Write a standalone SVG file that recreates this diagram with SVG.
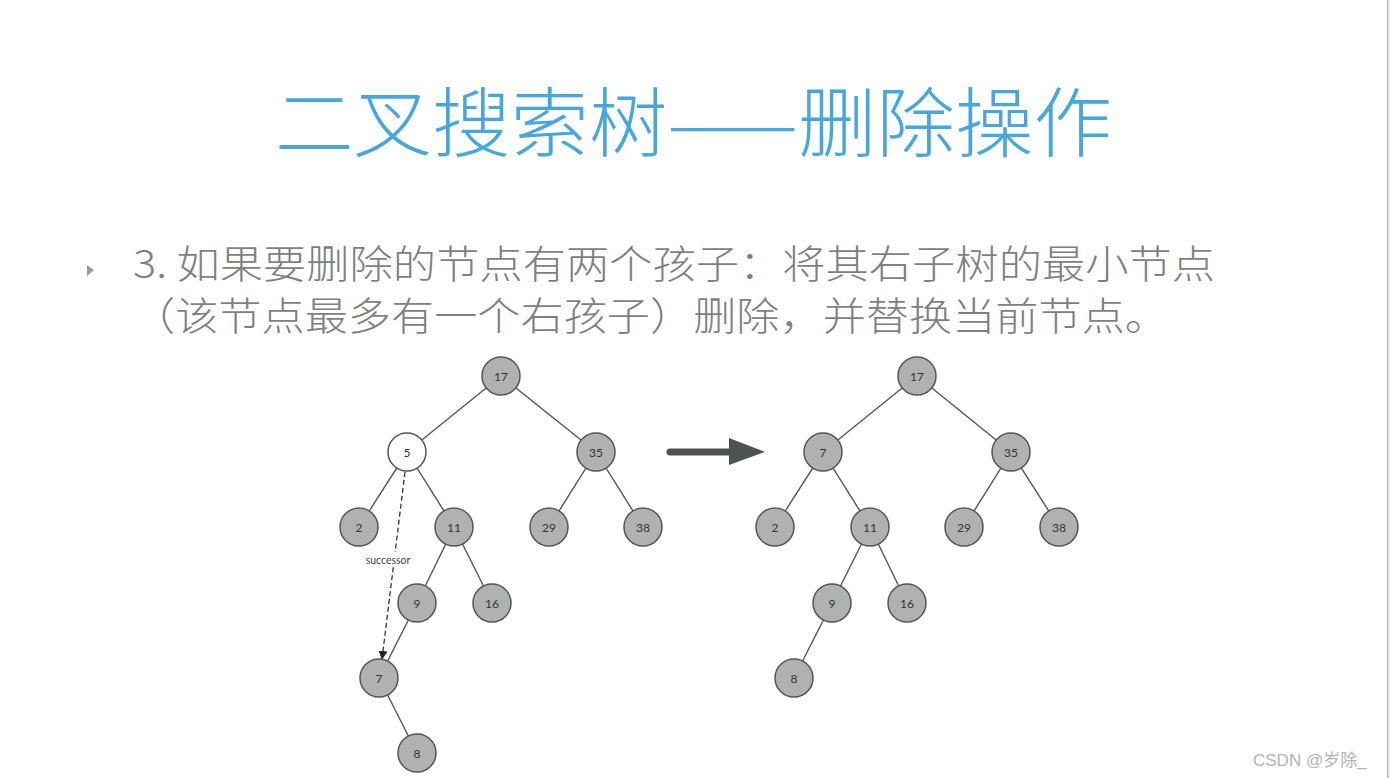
<svg xmlns="http://www.w3.org/2000/svg" width="1390" height="778" viewBox="0 0 1390 778">
<defs>
<style>
.title{font-family:"Noto Sans CJK SC","Noto Sans",sans-serif;font-weight:300;font-size:76px;fill:#47A6DD}
.body{font-family:"Noto Sans CJK SC","Noto Sans",sans-serif;font-weight:300;font-size:39px;fill:#7f7f7f}
.edge{stroke:#555;stroke-width:1.4;fill:none}
.node circle{fill:#b0b2b2;stroke:#555;stroke-width:1.5}
.node.white circle{fill:#fff}
.node text{font-family:Lato,"Liberation Sans",sans-serif;font-size:12px;fill:#333;text-anchor:middle;dominant-baseline:central}
.lbl{font-family:Lato,"Liberation Sans",sans-serif;font-size:10.5px;fill:#444;text-anchor:middle}
.wm{font-family:"Liberation Sans","Noto Sans CJK SC",sans-serif;font-size:17px;fill:#b3b3b3}
</style>
<marker id="ah" viewBox="0 0 10 10" refX="9" refY="5" markerWidth="9" markerHeight="9" markerUnits="userSpaceOnUse" orient="auto">
<path d="M0,0 L10,5 L0,10 z" fill="#222"/>
</marker>
</defs>
<rect width="1390" height="778" fill="#fff"/>
<rect x="1387" y="0" width="3" height="778" fill="#e8e8e8"/>
<line x1="1387.5" y1="0" x2="1387.5" y2="778" stroke="#b0b0b0" stroke-width="1"/>

<text class="title" x="275" y="151" textLength="837" lengthAdjust="spacingAndGlyphs">二叉搜索树——删除操作</text>

<path d="M87,265 L94,270 L87,276 z" fill="#9a9a9a"/>
<text class="body" x="133" y="278" textLength="1082" lengthAdjust="spacingAndGlyphs">3. 如果要删除的节点有两个孩子：将其右子树的最小节点</text>
<text class="body" x="132" y="330" textLength="1036" lengthAdjust="spacingAndGlyphs">（该节点最多有一个右孩子）删除，并替换当前节点。</text>

<g id="connectors">
<line class="edge" x1="501" y1="376" x2="407" y2="452"/>
<line class="edge" x1="501" y1="376" x2="596" y2="452"/>
<line class="edge" x1="407" y1="452" x2="359" y2="527"/>
<line class="edge" x1="407" y1="452" x2="454" y2="527"/>
<line class="edge" x1="596" y1="452" x2="549" y2="527"/>
<line class="edge" x1="596" y1="452" x2="643" y2="527"/>
<line class="edge" x1="454" y1="527" x2="417" y2="603"/>
<line class="edge" x1="454" y1="527" x2="492" y2="603"/>
<line class="edge" x1="417" y1="603" x2="379" y2="678"/>
<line class="edge" x1="379" y1="678" x2="417" y2="753"/>
<line x1="405" y1="472" x2="382" y2="659" stroke="#333" stroke-width="1.3" stroke-dasharray="5,3" marker-end="url(#ah)"/>
<line class="edge" x1="917" y1="376" x2="823" y2="452"/>
<line class="edge" x1="917" y1="376" x2="1011" y2="452"/>
<line class="edge" x1="823" y1="452" x2="775" y2="527"/>
<line class="edge" x1="823" y1="452" x2="870" y2="527"/>
<line class="edge" x1="1011" y1="452" x2="964" y2="527"/>
<line class="edge" x1="1011" y1="452" x2="1059" y2="527"/>
<line class="edge" x1="870" y1="527" x2="832" y2="603"/>
<line class="edge" x1="870" y1="527" x2="907" y2="603"/>
<line class="edge" x1="832" y1="603" x2="794" y2="678"/>
<line x1="670" y1="452" x2="735" y2="452" stroke="#4e5351" stroke-width="7" stroke-linecap="round"/>
<path d="M729,438 L765,452 L729,465 z" fill="#4e5351"/>
</g>

<rect x="361" y="552" width="54" height="15" fill="#fff"/>
<text class="lbl" x="388" y="564">successor</text>

<g id="L17" class="node"><circle cx="501" cy="376" r="19"/><text x="501" y="376">17</text></g>
<g id="L5" class="node white"><circle cx="407" cy="452" r="19"/><text x="407" y="452">5</text></g>
<g id="L35" class="node"><circle cx="596" cy="452" r="19"/><text x="596" y="452">35</text></g>
<g id="L2" class="node"><circle cx="359" cy="527" r="19"/><text x="359" y="527">2</text></g>
<g id="L11" class="node"><circle cx="454" cy="527" r="19"/><text x="454" y="527">11</text></g>
<g id="L29" class="node"><circle cx="549" cy="527" r="19"/><text x="549" y="527">29</text></g>
<g id="L38" class="node"><circle cx="643" cy="527" r="19"/><text x="643" y="527">38</text></g>
<g id="L9" class="node"><circle cx="417" cy="603" r="19"/><text x="417" y="603">9</text></g>
<g id="L16" class="node"><circle cx="492" cy="603" r="19"/><text x="492" y="603">16</text></g>
<g id="L7" class="node"><circle cx="379" cy="678" r="19"/><text x="379" y="678">7</text></g>
<g id="L8" class="node"><circle cx="417" cy="753" r="19"/><text x="417" y="753">8</text></g>

<g id="R17" class="node"><circle cx="917" cy="376" r="19"/><text x="917" y="376">17</text></g>
<g id="R7" class="node"><circle cx="823" cy="452" r="19"/><text x="823" y="452">7</text></g>
<g id="R35" class="node"><circle cx="1011" cy="452" r="19"/><text x="1011" y="452">35</text></g>
<g id="R2" class="node"><circle cx="775" cy="527" r="19"/><text x="775" y="527">2</text></g>
<g id="R11" class="node"><circle cx="870" cy="527" r="19"/><text x="870" y="527">11</text></g>
<g id="R29" class="node"><circle cx="964" cy="527" r="19"/><text x="964" y="527">29</text></g>
<g id="R38" class="node"><circle cx="1059" cy="527" r="19"/><text x="1059" y="527">38</text></g>
<g id="R9" class="node"><circle cx="832" cy="603" r="19"/><text x="832" y="603">9</text></g>
<g id="R16" class="node"><circle cx="907" cy="603" r="19"/><text x="907" y="603">16</text></g>
<g id="R8" class="node"><circle cx="794" cy="678" r="19"/><text x="794" y="678">8</text></g>

<text class="wm" x="1253" y="766">CSDN @岁除_</text>
</svg>
